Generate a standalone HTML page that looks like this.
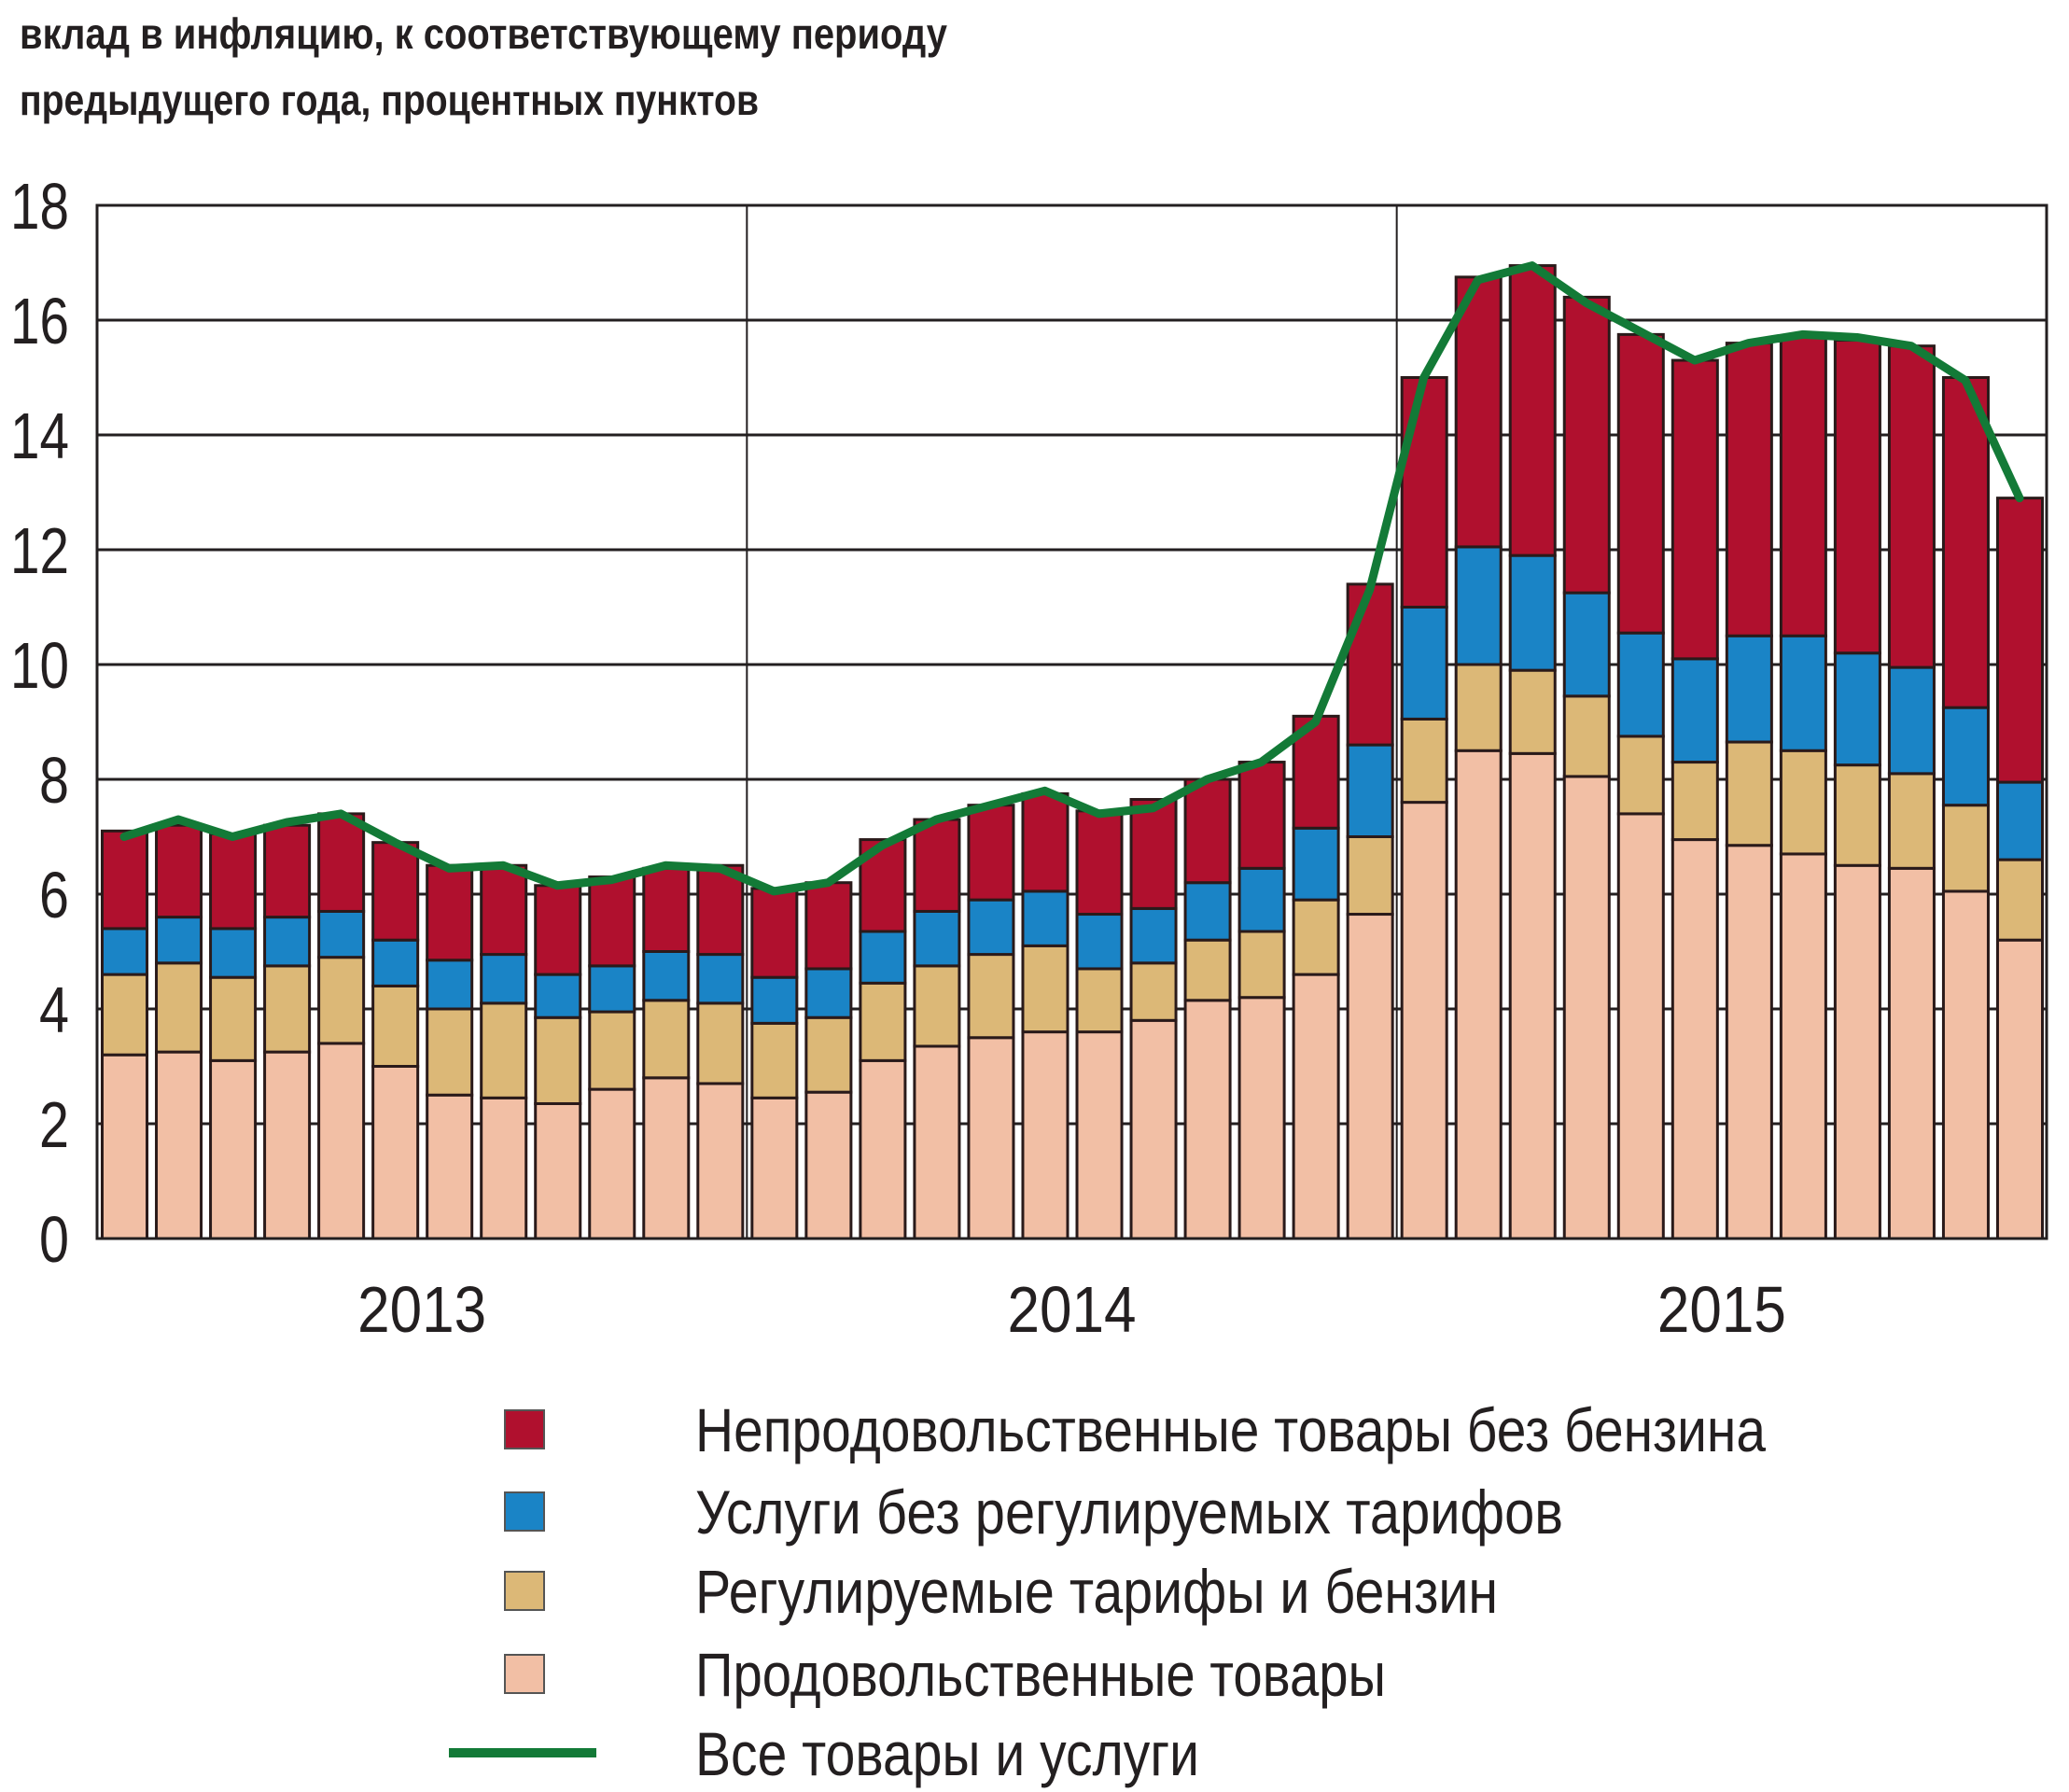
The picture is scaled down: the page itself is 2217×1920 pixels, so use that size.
<!DOCTYPE html>
<html><head><meta charset="utf-8"><style>
html,body{margin:0;padding:0;background:#fff;}
svg{display:block;}
text{font-family:"Liberation Sans",sans-serif;fill:#231f20;}
</style></head><body>
<svg id="chart" width="2217" height="1920" viewBox="0 0 2217 1920" xmlns="http://www.w3.org/2000/svg">
<text x="21" y="52" font-size="46" font-weight="bold" textLength="994" lengthAdjust="spacingAndGlyphs">вклад в инфляцию, к соответствующему периоду</text>
<text x="21" y="123" font-size="46" font-weight="bold" textLength="792" lengthAdjust="spacingAndGlyphs">предыдущего года, процентных пунктов</text>
<g id="grid"></g>
<g id="bars"></g>
<g id="line"></g>
<g id="axes"></g>
<g id="legend"></g>
</svg>
<script>
const years = ["2013","2014","2015"];
const yTicks = [0,2,4,6,8,10,12,14,16,18];
const food =     [3.2,3.25,3.1,3.25,3.4,3.0,2.5,2.45,2.35,2.6,2.8,2.7, 2.45,2.55,3.1,3.35,3.5,3.6,3.6,3.8,4.15,4.2,4.6,5.65, 7.6,8.5,8.45,8.05,7.4,6.95,6.85,6.7,6.5,6.45,6.05,5.2];
const tariffs =  [1.4,1.55,1.45,1.5,1.5,1.4,1.5,1.65,1.5,1.35,1.35,1.4, 1.3,1.3,1.35,1.4,1.45,1.5,1.1,1.0,1.05,1.15,1.3,1.35, 1.45,1.5,1.45,1.4,1.35,1.35,1.8,1.8,1.75,1.65,1.5,1.4];
const services = [0.8,0.8,0.85,0.85,0.8,0.8,0.85,0.85,0.75,0.8,0.85,0.85, 0.8,0.85,0.9,0.95,0.95,0.95,0.95,0.95,1.0,1.1,1.25,1.6, 1.95,2.05,2.0,1.8,1.8,1.8,1.85,2.0,1.95,1.85,1.7,1.35];
const nonfood =  [1.7,1.6,1.65,1.6,1.7,1.7,1.65,1.55,1.55,1.55,1.45,1.55, 1.55,1.5,1.6,1.6,1.65,1.7,1.8,1.9,1.8,1.85,1.95,2.8, 4.0,4.7,5.05,5.15,5.2,5.2,5.1,5.2,5.45,5.6,5.75,4.95];
const total =    [7.0,7.3,7.0,7.25,7.4,6.9,6.45,6.5,6.15,6.25,6.5,6.45, 6.05,6.2,6.85,7.3,7.55,7.8,7.4,7.5,8.0,8.3,9.0,11.3, 15.0,16.7,16.95,16.3,15.8,15.3,15.6,15.75,15.7,15.55,14.95,12.9];
const seriesNames = ["Непродовольственные товары без бензина","Услуги без регулируемых тарифов","Регулируемые тарифы и бензин","Продовольственные товары","Все товары и услуги"];

const L=104,R=2193,T=220,B=1327,YMAX=18,N=36;
const step=(R-L)/N;
const y=v=>B-(v/YMAX)*(B-T);
const x=i=>L+i*step;
const NS="http://www.w3.org/2000/svg";
function mk(tag,parent,attrs){const e=document.createElementNS(NS,tag);for(const k in attrs)e.setAttribute(k,attrs[k]);parent.appendChild(e);return e;}
const grid=document.getElementById('grid'),bars=document.getElementById('bars'),lineG=document.getElementById('line'),axes=document.getElementById('axes'),leg=document.getElementById('legend');

yTicks.forEach(t=>{
  const ln=mk('line',grid,{x1:L,x2:R,y1:y(t),y2:y(t),stroke:'#231f20','stroke-width':3});
  
  
  const tx=mk('text',axes,{x:74,y:y(t)+25,'font-size':70,'text-anchor':'end',textLength:t>=10?63:32,lengthAdjust:'spacingAndGlyphs'});
  tx.textContent=t;
  
  
});
years.forEach((yr,k)=>{
  if(k>0){const v=mk('line',grid,{x1:x(k*12),x2:x(k*12),y1:T,y2:B,stroke:'#231f20','stroke-width':2});
    
    }
  const tx=mk('text',axes,{x:x(k*12+6),y:1427,'font-size':70,'text-anchor':'middle',textLength:138,lengthAdjust:'spacingAndGlyphs'});
  tx.textContent=yr;
  
  
});

const colors=['#f2bfa5','#dcb877','#1a84c6','#b0102e'];
const segNames=['food','tariffs','services','nonfood'];
const series=[food,tariffs,services,nonfood];
for(let i=0;i<N;i++){
  let base=0;
  const bx=x(i)+5.5,bw=step-10;
  series.forEach((s,j)=>{
    const top=base+s[i];
    const r=mk('rect',bars,{x:bx,y:y(top),width:bw,height:y(base)-y(top),fill:colors[j],stroke:'#2a1a1a','stroke-width':3});
    
    
    base=top;
  });
}
const pts=total.map((v,i)=>(x(i)+step/2)+','+y(v)).join(' ');
const pl=mk('polyline',lineG,{points:pts,fill:'none',stroke:'#137a37','stroke-width':9,'stroke-linejoin':'round','stroke-linecap':'round'});



const fr=mk('rect',axes,{x:L,y:T,width:R-L,height:B-T,fill:'none',stroke:'#231f20','stroke-width':3});



const legY=[1531,1619,1704,1793,1878];
const legC=['#b0102e','#1a84c6','#dcb877','#f2bfa5'];
const legW=[1147,930,860,740,540];
seriesNames.forEach((n,k)=>{
  if(k<4){const r=mk('rect',leg,{x:541,y:legY[k]-20,width:42,height:41,fill:legC[k],stroke:'#555','stroke-width':2});
    
    }
  else{const l=mk('line',leg,{x1:481,x2:639,y1:legY[k],y2:legY[k],stroke:'#137a37','stroke-width':10});
    
    }
  const t=mk('text',leg,{x:745,y:legY[k]+24,'font-size':66,textLength:legW[k],lengthAdjust:'spacingAndGlyphs'});
  t.textContent=n;
  
  
});
</script>
</body></html>
